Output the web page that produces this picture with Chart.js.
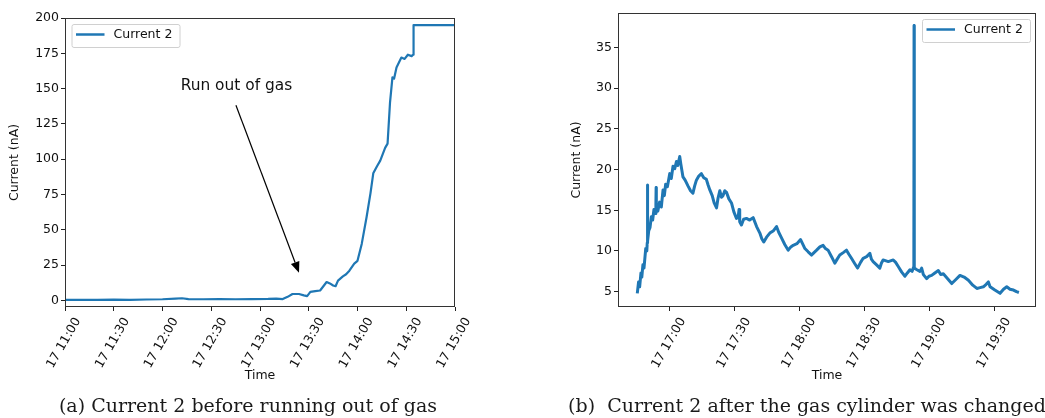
<!DOCTYPE html>
<html>
<head>
<meta charset="utf-8">
<script src="https://cdn.jsdelivr.net/npm/chart.js@4.4.0/dist/chart.umd.min.js"></script>
<style>
  body { margin: 0; width: 1045px; height: 418px; background: #fff; position: relative; overflow: hidden; }
  canvas { position: absolute; top: 0; }
  .caption { position: absolute; top: 396px; font-family: "DejaVu Serif", serif; font-size: 19px; line-height: 19px;
             color: #1a1a1a; white-space: nowrap; transform: translateX(-50%); }
</style>
</head>
<body>
<canvas id="chartA" width="520" height="395" style="left:0"></canvas>
<canvas id="chartB" width="505" height="395" style="left:540px"></canvas>
<div class="caption" style="left:248px">(a) Current 2 before running out of gas</div>
<div class="caption" style="left:807px">(b)&nbsp; Current 2 after the gas cylinder was changed</div>

<script>
// time in minutes since 00:00 on the 17th, current in nA
const timesA = [660, 670, 680, 690, 700, 710, 720, 728, 732, 736, 745, 755, 765, 775, 785, 790, 794,
                797, 800, 804, 807, 809, 811, 814, 817, 819, 821, 823, 825, 826.5, 828, 831, 833, 835,
                838, 840, 842.6, 845.6, 848, 849.7, 852, 854, 857, 858.5, 860, 861.5, 862.5, 864, 867,
                869, 871, 873.3, 874.2, 874.5, 900];
const currentA = [0.3, 0.4, 0.3, 0.5, 0.4, 0.6, 0.8, 1.2, 1.5, 0.9, 0.8, 0.9, 0.8, 0.9, 1.0, 1.2, 0.9,
                  2.5, 4.5, 4.5, 3.5, 3.0, 6.0, 6.5, 7.0, 10, 13, 12, 10.5, 10, 14, 17, 18.5, 21,
                  26, 28, 40, 59, 76, 90, 95, 99, 108, 111, 140, 158, 157, 165, 172,
                  171, 174, 173, 174, 195, 195];

const timesB = [1004.9, 1005.5, 1006.0, 1006.6, 1007.0, 1007.5, 1008.0, 1008.8, 1009.3, 1009.5, 1009.6, 1009.7,
  1010.2, 1010.8, 1011.4, 1012.0, 1012.6, 1013.2, 1013.5, 1013.6, 1013.7, 1014.4, 1015.2, 1016.0, 1016.8,
  1017.4, 1018.0, 1018.8, 1019.9, 1020.6, 1021.4, 1022.2, 1023.0, 1023.6, 1024.5, 1025.0, 1026.0, 1027.0,
  1028.3, 1029.5, 1030.6, 1031.4, 1032.2, 1033.3, 1034.5, 1035.6, 1036.8, 1037.6, 1038.4, 1039.5, 1040.4,
  1041.5, 1042.2, 1043.0, 1043.8, 1044.5, 1045.3, 1046.1, 1047.2, 1048.4, 1049.5, 1050.7, 1051.5, 1051.9,
  1052.2, 1053.0, 1054.0, 1055.3, 1056.8, 1058.4, 1060.0, 1061.5, 1062.4, 1063.3, 1064.6, 1066.1, 1067.8,
  1069.2, 1070.2, 1071.5, 1073.0, 1074.6, 1075.8, 1076.9, 1078.6, 1080.3, 1081.2, 1082.3, 1083.8, 1085.4,
  1086.5, 1087.7, 1089.2, 1090.7, 1091.8, 1093.0, 1094.6, 1096.1, 1097.2, 1098.4, 1100.0, 1101.5, 1102.6,
  1103.8, 1105.2, 1106.6, 1108.0, 1109.2, 1110.8, 1112.3, 1113.0, 1113.8, 1115.4, 1116.9, 1117.6, 1118.4,
  1120.8, 1123.1, 1124.2, 1125.4, 1127.0, 1128.5, 1129.6, 1130.8, 1131.8, 1132.6, 1132.7, 1132.8, 1134.0,
  1135.4, 1136.2, 1137.0, 1138.5, 1139.6, 1140.8, 1142.3, 1143.9, 1145.0, 1146.2, 1148.2, 1150.1, 1152.0,
  1153.9, 1155.8, 1157.8, 1159.8, 1161.7, 1163.2, 1164.7, 1166.0, 1167.0, 1167.8, 1170.0, 1172.4, 1174.0,
  1175.5, 1177.0, 1178.6, 1180.0, 1181.1];
const currentB = [4.8, 6.2, 5.6, 7.3, 6.8, 8.3, 7.9, 10.3, 10.0, 11.0, 18.1, 11.2,
  12.5, 12.9, 14.2, 13.8, 15.1, 14.6, 15.8, 17.8, 15.4, 14.9, 16.0, 15.4, 17.5,
  16.8, 18.2, 17.9, 19.5, 18.9, 20.4, 20.1, 21.0, 20.5, 21.6, 20.7, 19.1, 18.7,
  18.0, 17.4, 17.1, 18.0, 18.7, 19.2, 19.5, 19.0, 18.8, 18.1, 17.5, 16.8, 15.9,
  15.3, 16.5, 17.4, 16.6, 16.8, 17.4, 17.2, 16.4, 15.9, 14.8, 14.0, 14.2, 15.1,
  13.6, 13.2, 13.9, 14.0, 13.8, 14.1, 13.0, 12.2, 11.5, 11.1, 11.7, 12.2, 12.5,
  13.0, 12.3, 11.6, 10.8, 10.1, 10.5, 10.7, 10.9, 11.4, 10.9, 10.3, 9.9, 9.5,
  9.8, 10.1, 10.5, 10.7, 10.3, 10.1, 9.3, 8.5, 9.0, 9.5, 9.8, 10.1, 9.6,
  9.1, 8.5, 7.9, 8.6, 9.1, 9.3, 9.7, 9.0, 8.7, 8.3, 7.9, 8.5, 8.9,
  8.7, 8.9, 8.6, 8.1, 7.4, 6.9, 7.3, 7.7, 7.5, 8.1, 37.7, 7.9, 7.7,
  7.5, 7.9, 7.1, 6.6, 6.9, 7.0, 7.3, 7.6, 7.1, 7.2, 6.6, 6.0, 6.5,
  7.0, 6.8, 6.4, 5.8, 5.4, 5.5, 5.6, 5.9, 6.2, 5.6, 5.2, 4.8, 5.3,
  5.6, 5.3, 5.2, 5.0, 4.9];

const xTicksA = [660, 690, 720, 750, 780, 810, 840, 870, 900];
const yTicksA = [0, 25, 50, 75, 100, 125, 150, 175, 200];
const xTicksB = [1020, 1050, 1080, 1110, 1140, 1170];
const yTicksB = [5, 10, 15, 20, 25, 30, 35];

const BLUE = '#1f77b4';
const TXT = '#111';
const smallFont = { family: 'DejaVu Sans', size: 12.5 };

function fmtTime(v) {
    const h = Math.floor(v / 60), m = Math.round(v % 60);
    return `17 ${h}:${String(m).padStart(2, '0')}`;
}

// frame + legend + optional arrow annotation (matplotlib look)
const decorPlugin = {
    id: 'decor',
    afterDraw(chart, args, opts) {
        const { ctx, chartArea: a, scales } = chart;
        ctx.save();
        ctx.strokeStyle = '#333';
        ctx.lineWidth = 1;
        ctx.strokeRect(a.left + 0.5, a.top + 0.5, a.right - a.left - 1, a.bottom - a.top - 1);

        // legend box
        const bw = 108, bh = 23;
        const bx = opts.legendSide === 'left' ? a.left + 6.5 : a.right - 6 - bw;
        const by = a.top + 6;
        ctx.fillStyle = 'rgba(255,255,255,0.85)';
        ctx.strokeStyle = '#d0d0d0';
        ctx.beginPath();
        ctx.roundRect(bx + 0.5, by + 0.5, bw, bh, 2);
        ctx.fill();
        ctx.stroke();
        ctx.strokeStyle = BLUE;
        ctx.lineWidth = 2.5;
        ctx.beginPath();
        ctx.moveTo(bx + 4.5, by + 10.5);
        ctx.lineTo(bx + 33, by + 10.5);
        ctx.stroke();
        ctx.fillStyle = TXT;
        ctx.font = '12.5px "DejaVu Sans"';
        ctx.textBaseline = 'middle';
        ctx.textAlign = 'left';
        ctx.fillText('Current 2', bx + 42, by + 11);

        if (opts.note) {
            const n = opts.note;
            const px = v => scales.x.getPixelForValue(v), py = v => scales.y.getPixelForValue(v);
            ctx.font = '15.4px "DejaVu Sans"';
            ctx.textAlign = 'center';
            ctx.fillText(n.text, px(n.at[0]), py(n.at[1]));
            const x0 = px(n.from[0]), y0 = py(n.from[1]), x1 = px(n.to[0]), y1 = py(n.to[1]);
            const ang = Math.atan2(y1 - y0, x1 - x0), hl = 11, hw = 4.5;
            const bxp = x1 - hl * Math.cos(ang), byp = y1 - hl * Math.sin(ang);
            ctx.strokeStyle = '#000';
            ctx.lineWidth = 1.2;
            ctx.beginPath();
            ctx.moveTo(x0, y0);
            ctx.lineTo(bxp, byp);
            ctx.stroke();
            ctx.fillStyle = '#000';
            ctx.beginPath();
            ctx.moveTo(x1, y1);
            ctx.lineTo(bxp + hw * Math.sin(ang), byp - hw * Math.cos(ang));
            ctx.lineTo(bxp - hw * Math.sin(ang), byp + hw * Math.cos(ang));
            ctx.closePath();
            ctx.fill();
        }
        ctx.restore();
    }
};

function makeChart(id, times, values, p) {
    const ctx = document.getElementById(id).getContext('2d');
    return new Chart(ctx, {
        type: 'line',
        data: {
            datasets: [{
                label: 'Current 2',
                data: times.map((t, i) => ({ x: t, y: values[i] })),
                borderColor: BLUE,
                borderWidth: p.lineWidth,
                borderJoinStyle: 'round',
                pointRadius: 0,
                tension: 0,
                fill: false
            }]
        },
        options: {
            responsive: false,
            animation: false,
            events: [],
            layout: { padding: { left: 0, right: p.padRight, top: p.padTop, bottom: 0 } },
            plugins: { legend: { display: false }, tooltip: { enabled: false }, decor: p.decor },
            scales: {
                x: {
                    type: 'linear',
                    min: p.xMin, max: p.xMax,
                    afterBuildTicks: axis => { axis.ticks = p.xTicks.map(v => ({ value: v })); },
                    afterFit: s => { s.height = 88; },
                    ticks: {
                        callback: v => fmtTime(v),
                        minRotation: 60, maxRotation: 60, autoSkip: false,
                        labelOffset: 13, padding: 4,
                        color: TXT, font: smallFont
                    },
                    grid: { drawOnChartArea: false, tickLength: 4, color: '#222' },
                    border: { display: false },
                    title: { display: true, text: 'Time', color: TXT, font: smallFont, padding: { top: 0, bottom: 12 } }
                },
                y: {
                    min: p.yMin, max: p.yMax,
                    afterBuildTicks: axis => { axis.ticks = p.yTicks.map(v => ({ value: v })); },
                    afterFit: s => { s.width = p.yWidth; },
                    ticks: { color: TXT, font: smallFont, padding: 2 },
                    grid: { drawOnChartArea: false, tickLength: 4, color: '#222' },
                    border: { display: false },
                    title: { display: true, text: 'Current (nA)', color: TXT, font: smallFont, padding: { top: p.yTitlePad, bottom: 0 } }
                }
            }
        },
        plugins: [decorPlugin]
    });
}

makeChart('chartA', timesA, currentA, {
    lineWidth: 2.2, padRight: 65, padTop: 18, yWidth: 65, yTitlePad: 7.5,
    xMin: 660, xMax: 900, yMin: -4.7, yMax: 200, xTicks: xTicksA, yTicks: yTicksA,
    decor: { legendSide: 'left', note: { text: 'Run out of gas', at: [765.5, 152], from: [765.2, 138.2], to: [804, 19.5] } }
});

makeChart('chartB', timesB, currentB, {
    lineWidth: 3, padRight: 9, padTop: 13, yWidth: 78, yTitlePad: 29.5,
    xMin: 996, xMax: 1189, yMin: 3.12, yMax: 39.23, xTicks: xTicksB, yTicks: yTicksB,
    decor: { legendSide: 'right' }
});
</script>
</body>
</html>
